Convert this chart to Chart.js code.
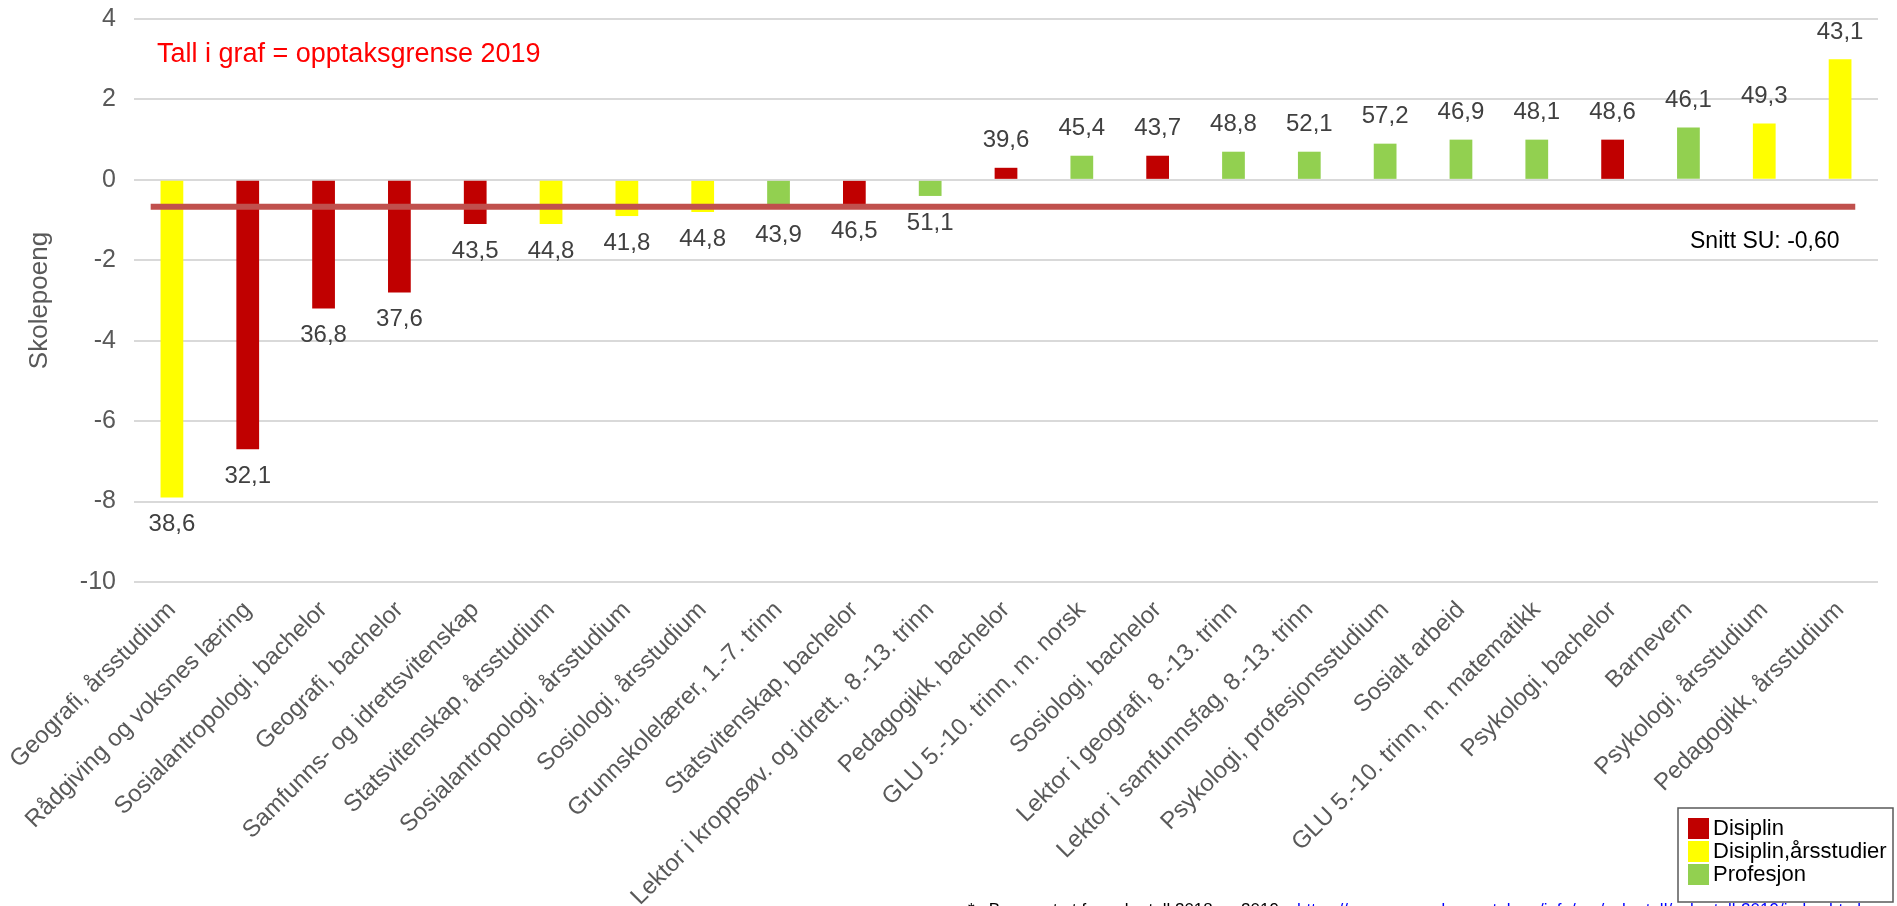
<!DOCTYPE html>
<html>
<head>
<meta charset="utf-8">
<script src="https://cdn.jsdelivr.net/npm/chart.js@4.4.0/dist/chart.umd.min.js"></script>
<style>
  html,body{margin:0;padding:0;background:#fff;overflow:hidden}
  #wrap{width:1897px;height:906px}
</style>
</head>
<body>
<div id="wrap"><canvas id="c" width="1897" height="906"></canvas></div>
<script>
/* Studieprogram: skolepoeng-forskjell mot snitt, opptaksgrense 2019 som etikett */
const FONT = "'Liberation Sans', Arial, sans-serif";

const categories = [
  "Geografi, årsstudium",
  "Rådgiving og voksnes læring",
  "Sosialantropologi, bachelor",
  "Geografi, bachelor",
  "Samfunns- og idrettsvitenskap",
  "Statsvitenskap, årsstudium",
  "Sosialantropologi, årsstudium",
  "Sosiologi, årsstudium",
  "Grunnskolelærer, 1.-7. trinn",
  "Statsvitenskap, bachelor",
  "Lektor i kroppsøv. og idrett., 8.-13. trinn",
  "Pedagogikk, bachelor",
  "GLU 5.-10. trinn, m. norsk",
  "Sosiologi, bachelor",
  "Lektor i geografi, 8.-13. trinn",
  "Lektor i samfunnsfag, 8.-13. trinn",
  "Psykologi, profesjonsstudium",
  "Sosialt arbeid",
  "GLU 5.-10. trinn, m. matematikk",
  "Psykologi, bachelor",
  "Barnevern",
  "Psykologi, årsstudium",
  "Pedagogikk, årsstudium"
];
const diffSU = [-7.9, -6.7, -3.2, -2.8, -1.1, -1.1, -0.9, -0.8, -0.7, -0.6, -0.4,
                0.3, 0.6, 0.6, 0.7, 0.7, 0.9, 1.0, 1.0, 1.0, 1.3, 1.4, 3.0];
const grense2019 = ["38,6","32,1","36,8","37,6","43,5","44,8","41,8","44,8","43,9","46,5","51,1",
                    "39,6","45,4","43,7","48,8","52,1","57,2","46,9","48,1","48,6","46,1","49,3","43,1"];
// 0 = Disiplin, 1 = Disiplin,årsstudier, 2 = Profesjon
const kind = [1,0,0,0,0,1,1,1,2,0,2,0,2,0,2,2,2,2,2,0,2,1,1];
const kinds = ["Disiplin","Disiplin,årsstudier","Profesjon"];
const kindColors = ["#C00000","#FFFF00","#92D050"];

const snittX = [-0.28, 22.2];
const snittY = [-0.67, -0.67];
const snittText = "Snitt SU: -0,60";
const noteText = "Tall i graf = opptaksgrense 2019";
const footText = "*   Beregnet ut fra søkertall 2018 og 2019";
const footLink = "https://www.samordnaopptak.no/info/om/sokertall/sokertall-2019/index.html";

const yTicks = [-10,-8,-6,-4,-2,0,2,4];

const overlay = {
  id: "overlay",
  afterDatasetsDraw(chart){
    const ctx = chart.ctx;
    const meta = chart.getDatasetMeta(1);
    ctx.save();
    ctx.font = "24px " + FONT;
    ctx.fillStyle = "#404040";
    ctx.textAlign = "center";
    ctx.textBaseline = "middle";
    meta.data.forEach((bar, i)=>{
      const y = diffSU[i] < 0 ? bar.y + 27 : bar.y - 27;
      ctx.fillText(grense2019[i], bar.x, y);
    });

    // notes
    ctx.textAlign = "left";
    ctx.fillStyle = "#FF0000";
    ctx.font = "27px " + FONT;
    ctx.fillText(noteText, 157, 55);
    ctx.fillStyle = "#000";
    ctx.font = "23px " + FONT;
    ctx.fillText(snittText, 1690, 242);

    // legend
    const lx = 1678, ly = 808, lw = 215, lh = 94;
    ctx.fillStyle = "#fff";
    ctx.fillRect(lx, ly, lw, lh);
    ctx.strokeStyle = "#595959";
    ctx.lineWidth = 1.5;
    ctx.strokeRect(lx, ly, lw, lh);
    ctx.font = "22px " + FONT;
    kinds.forEach((k, i)=>{
      const cy = ly + 20 + i*23;
      ctx.fillStyle = kindColors[i];
      ctx.fillRect(lx + 10, cy - 10, 21, 21);
      ctx.fillStyle = "#000";
      ctx.fillText(k, lx + 35, cy + 1);
    });

    // footnote (mostly below the visible edge)
    ctx.font = "17px " + FONT;
    ctx.textBaseline = "alphabetic";
    ctx.fillStyle = "#000";
    ctx.fillText(footText, 968, 915);
    ctx.fillStyle = "#0000FF";
    ctx.fillText(footLink, 1297, 915);
    ctx.restore();
  }
};

new Chart(document.getElementById("c"), {
  data: {
    labels: categories,
    datasets: [
      {
        type: "line",
        label: "Snitt",
        xAxisID: "x2",
        data: snittX.map((x, i)=>({x, y: snittY[i]})),
        borderColor: "#C0504D",
        borderWidth: 6,
        pointRadius: 0,
        borderCapStyle: "butt",
        order: 0
      },
      {
        type: "bar",
        label: "SU",
        xAxisID: "x",
        data: diffSU,
        backgroundColor: kind.map(k=>kindColors[k]),
        borderWidth: 0,
        grouped: false,
        barPercentage: 0.3,
        categoryPercentage: 1,
        order: 1
      }
    ]
  },
  options: {
    responsive: false,
    animation: false,
    layout: {padding: {top: 19, right: 19, bottom: 0, left: 0}},
    plugins: {legend: {display: false}, tooltip: {enabled: false}},
    scales: {
      x: {
        type: "category",
        grid: {display: false},
        border: {display: false},
        ticks: {
          autoSkip: false, maxRotation: 45, minRotation: 45,
          color: "#595959", font: {family: FONT, size: 24}, padding: 6
        },
        afterFit(s){ s.height = 324; s.paddingLeft = 0; s.paddingRight = 0; }
      },
      x2: {
        type: "linear", display: false, min: -0.5, max: 22.5
      },
      y: {
        min: -10, max: 4,
        afterBuildTicks(s){ s.ticks = yTicks.map(v=>({value: v})); },
        grid: {color: "#D9D9D9", lineWidth: 2, drawTicks: false},
        border: {display: false},
        ticks: {color: "#595959", font: {family: FONT, size: 25}, padding: 18},
        title: {display: true, text: "Skolepoeng", color: "#595959",
                font: {family: FONT, size: 26}, padding: {top: 24, bottom: 0}},
        afterFit(s){ s.width = 134; s.paddingTop = 0; s.paddingBottom = 0; }
      }
    }
  },
  plugins: [overlay]
});
</script>
</body>
</html>
